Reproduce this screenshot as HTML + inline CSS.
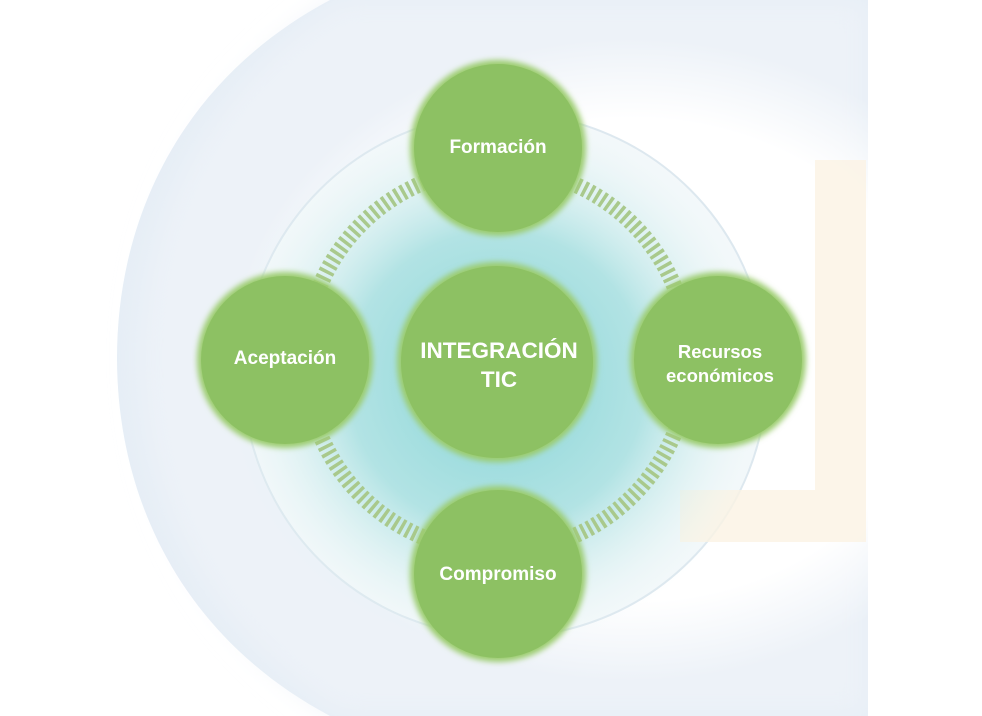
<!DOCTYPE html>
<html><head><meta charset="utf-8"><style>
html,body{margin:0;padding:0;background:#fff;width:982px;height:716px;overflow:hidden;}
svg{display:block;}
svg text{font-family:"Liberation Sans",sans-serif;font-weight:bold;fill:#fff;text-anchor:middle;}
</style></head><body>
<svg width="982" height="716" viewBox="0 0 982 716" xmlns="http://www.w3.org/2000/svg">
<defs>
<clipPath id="c"><rect x="0" y="0" width="868" height="716"/></clipPath>
<radialGradient id="wh" cx="0.5" cy="0.5" r="0.5">
<stop offset="0.75" stop-color="#ffffff"/><stop offset="1" stop-color="#ffffff" stop-opacity="0"/></radialGradient>
<radialGradient id="teal" cx="0.5" cy="0.5" r="0.5">
<stop offset="0" stop-color="#8ad6d8"/><stop offset="0.55" stop-color="#b2e3e4"/><stop offset="1" stop-color="#e8f6f6" stop-opacity="0"/></radialGradient>
<filter id="b"><feGaussianBlur stdDeviation="3"/></filter>
<filter id="b2"><feGaussianBlur stdDeviation="14"/></filter>
</defs>
<g clip-path="url(#c)">
<path d="M868 0 H330 C180 80 117 220 117 358 C117 496 180 636 330 716 H868 Z" fill="#e6eef6"/>
<path d="M868 0 H340 C200 90 140 220 140 358 C140 496 200 626 340 716 H868 Z" fill="#edf2f8" filter="url(#b2)"/>
<ellipse cx="630" cy="360" rx="400" ry="322" fill="url(#wh)"/>
<circle cx="505" cy="375" r="262" fill="#f3f8fa" stroke="#dde8ef" stroke-width="2"/>
<path d="M815 160 H866 V542 H680 V490 H815 Z" fill="#fbf3e4" opacity="0.8"/>
<circle cx="497" cy="380" r="270" fill="url(#teal)"/>
</g>
<circle cx="497" cy="360" r="192" fill="none" stroke="#a9c98c" stroke-width="16" stroke-dasharray="3.5 3.5"/>
<g filter="url(#b)">
<circle cx="498" cy="148" r="88" fill="#9bcc6e"/>
<circle cx="285" cy="360" r="88" fill="#9bcc6e"/>
<circle cx="718" cy="360" r="88" fill="#9bcc6e"/>
<circle cx="498" cy="574" r="88" fill="#9bcc6e"/>
<circle cx="497" cy="362" r="100" fill="#9bcc6e"/>
</g>
<circle cx="498" cy="148" r="84" fill="#8dc163"/>
<circle cx="285" cy="360" r="84" fill="#8dc163"/>
<circle cx="718" cy="360" r="84" fill="#8dc163"/>
<circle cx="498" cy="574" r="84" fill="#8dc163"/>
<circle cx="497" cy="362" r="96" fill="#8dc163"/>
<text x="498" y="153" font-size="19">Formación</text>
<text x="285" y="364" font-size="19">Aceptación</text>
<text x="720" y="358" font-size="18.5">Recursos</text>
<text x="720" y="382" font-size="18.5">económicos</text>
<text x="498" y="580" font-size="19">Compromiso</text>
<text x="499" y="358" font-size="22.5">INTEGRACIÓN</text>
<text x="499" y="387" font-size="22.5">TIC</text>
</svg>
</body></html>
